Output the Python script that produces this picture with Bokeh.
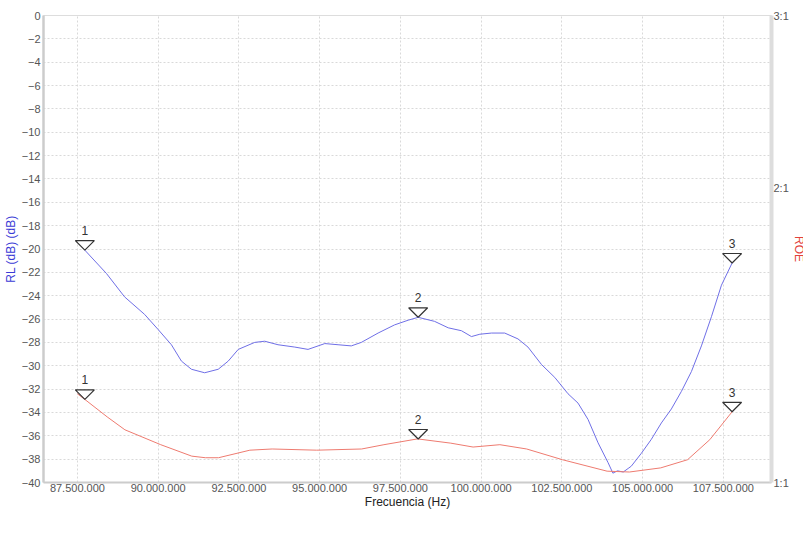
import numpy as np
from bokeh.plotting import figure
from bokeh.models import (Range1d, LogAxis, LogScale, FixedTicker, Legend,
                          LegendItem)
from bokeh.embed import file_html
from bokeh.resources import INLINE

# ---------------- data ----------------
rl_freq_mhz = [87.73, 88.40, 88.96, 89.58, 90.00, 90.41, 90.72, 91.03, 91.44, 91.86,
               92.17, 92.48, 92.99, 93.30, 93.71, 94.23, 94.64, 95.16, 95.57, 95.98,
               96.29, 96.81, 97.32, 97.74, 98.05, 98.56, 98.98, 99.39, 99.70, 99.96,
               100.32, 100.73, 101.14, 101.45, 101.87, 102.28, 102.69, 103.00, 103.31,
               103.62, 103.93, 104.08, 104.22, 104.40, 104.55, 104.65, 104.96, 105.27,
               105.58, 105.89, 106.20, 106.51, 106.82, 107.13, 107.44, 107.77]
rl_db = [-20.1, -22.1, -24.1, -25.6, -26.9, -28.2, -29.6, -30.3, -30.6, -30.3,
         -29.6, -28.6, -28.0, -27.9, -28.2, -28.4, -28.6, -28.1, -28.2, -28.3,
         -28.0, -27.2, -26.5, -26.1, -25.85, -26.2, -26.75, -27.0, -27.5, -27.3,
         -27.2, -27.2, -27.7, -28.4, -29.9, -31.0, -32.4, -33.2, -34.6,
         -36.6, -38.3, -39.2, -39.0, -39.1, -38.8, -38.6, -37.5, -36.3,
         -34.9, -33.7, -32.2, -30.5, -28.3, -25.8, -23.1, -21.2]

roe_freq_mhz = [87.50, 87.70, 88.42, 88.97, 90.08, 91.04, 91.46, 91.87, 92.84, 93.53,
                94.91, 96.30, 96.99, 98.03, 99.06, 99.75, 100.58, 101.41, 102.52,
                103.90, 104.59, 105.56, 106.39, 107.08, 107.77]
roe_vswr = [1.232, 1.218, 1.167, 1.132, 1.093, 1.064, 1.060, 1.060, 1.079, 1.082,
            1.079, 1.082, 1.093, 1.108, 1.097, 1.087, 1.093, 1.082, 1.055,
            1.027, 1.025, 1.035, 1.055, 1.106, 1.181]

marker_freq_mhz = [87.73, 98.05, 107.77]
marker_labels = ["1", "2", "3"]

x_ticks_hz = [87500000, 90000000, 92500000, 95000000, 97500000,
              100000000, 102500000, 105000000, 107500000]
x_tick_labels = ["87.500.000", "90.000.000", "92.500.000", "95.000.000", "97.500.000",
                 "100.000.000", "102.500.000", "105.000.000", "107.500.000"]
y_ticks_db = list(range(-40, 1, 2))
roe_ticks = [1, 2, 3]
roe_tick_labels = ["1:1", "2:1", "3:1"]

# ---------------- styling ----------------
FONT = "Liberation Sans"
BLUE = "#6f6fe6"
RED = "#ee7b70"
X0, X1 = 86.45e6, 108.99e6
Y0, Y1 = -40, 0
R0, R1 = 1, 3
FRAME_W, FRAME_H = 728, 467

p = figure(frame_width=FRAME_W, frame_height=FRAME_H, output_backend="svg",
           toolbar_location=None,
           x_range=Range1d(X0, X1), y_range=Range1d(Y0, Y1),
           min_border_left=34, min_border_right=0, min_border_top=15,
           min_border_bottom=0, background_fill_color="white",
           border_fill_color="white")
p.extra_y_ranges = {"roe": Range1d(R0, R1)}
p.extra_y_scales = {"roe": LogScale()}
p.outline_line_color = "#dddddd"

xa = p.xaxis[0]
xa.ticker = FixedTicker(ticks=x_ticks_hz)
xa.major_label_overrides = dict(zip(x_ticks_hz, x_tick_labels))
xa.axis_label = "Frecuencia (Hz)"
xa.axis_label_text_color = "#222222"
xa.axis_label_standoff = 0
xa.major_label_standoff = 1

ya = p.yaxis[0]
ya.ticker = FixedTicker(ticks=y_ticks_db)
ya.axis_label = "RL (dB) (dB)"
ya.axis_label_text_color = "#3b3bd6"
ya.axis_label_standoff = 1
ya.major_label_standoff = 3

ra = LogAxis(y_range_name="roe", ticker=FixedTicker(ticks=roe_ticks),
             major_label_overrides=dict(zip(roe_ticks, roe_tick_labels)))
ra.axis_label = "ROE"
ra.axis_label_text_color = "#e2423b"
ra.axis_label_standoff = 0
ra.major_label_standoff = 2
p.add_layout(ra, "right")

for ax, lw, lc in ((xa, 2, "#cccccc"), (ya, 2.5, "#cccccc"), (ra, 4, "#dddddd")):
    ax.axis_line_width = lw
    ax.axis_line_color = lc
    ax.major_tick_line_color = None
    ax.minor_tick_line_color = None
    ax.major_tick_out = 0
    ax.major_tick_in = 0
    ax.minor_tick_out = 0
    ax.minor_tick_in = 0
    ax.major_label_text_font = FONT
    ax.major_label_text_font_size = "11px"
    ax.major_label_text_color = "#555555"
    ax.axis_label_text_font = FONT
    ax.axis_label_text_font_size = "12px"
    ax.axis_label_text_font_style = "normal"

for g in (p.xgrid[0], p.ygrid[0]):
    g.grid_line_color = "#d9d9d9"
    g.grid_line_dash = "2 2"
    g.grid_line_width = 1

rl_freq_hz = np.array(rl_freq_mhz) * 1e6
roe_freq_hz = np.array(roe_freq_mhz) * 1e6

rl_line = p.line(rl_freq_hz, rl_db, line_color=BLUE, line_width=1)
roe_line = p.line(roe_freq_hz, roe_vswr, line_color=RED, line_width=1,
                  y_range_name="roe")

# marker triangles (tip on the trace)
mk_hz = np.array(marker_freq_mhz) * 1e6
hz_per_px = (X1 - X0) / FRAME_W
half_w = 9.5 * hz_per_px
tri_h_px = 9.5
db_per_px = (Y1 - Y0) / FRAME_H

mk_rl = np.interp(mk_hz, rl_freq_hz, rl_db)
mk_roe = np.interp(mk_hz, roe_freq_hz, roe_vswr)

xs = [[x - half_w, x + half_w, x] for x in mk_hz]
ys_rl = [[y + tri_h_px * db_per_px] * 2 + [y] for y in mk_rl]
roe_fac = (R1 / R0) ** (tri_h_px / FRAME_H)
ys_roe = [[y * roe_fac] * 2 + [y] for y in mk_roe]

p.patches(xs, ys_rl, fill_color=None, line_color="#333333", line_width=1.2)
p.patches(xs, ys_roe, fill_color=None, line_color="#333333", line_width=1.2,
          y_range_name="roe")

txt_kw = dict(text_align="center", text_baseline="bottom", y_offset=-15,
              text_font_size="12px", text_color="#333333")
p.text(mk_hz, mk_rl, text=marker_labels, text_font={"value": FONT}, **txt_kw)
p.text(mk_hz, mk_roe, text=marker_labels, text_font={"value": FONT},
       y_range_name="roe", **txt_kw)

legend = Legend(items=[LegendItem(label="RL (dB) (dB)", renderers=[rl_line]),
                       LegendItem(label="ROE", renderers=[roe_line])],
                orientation="horizontal", location="top_center",
                glyph_width=6, glyph_height=11, label_standoff=1, spacing=2,
                padding=1, margin=0, border_line_color="#999999",
                label_text_font=FONT, label_text_font_size="12px",
                label_text_color="#222222", label_height=11)
p.add_layout(legend, "below")

open("out.html", "w").write(file_html(p, INLINE))
